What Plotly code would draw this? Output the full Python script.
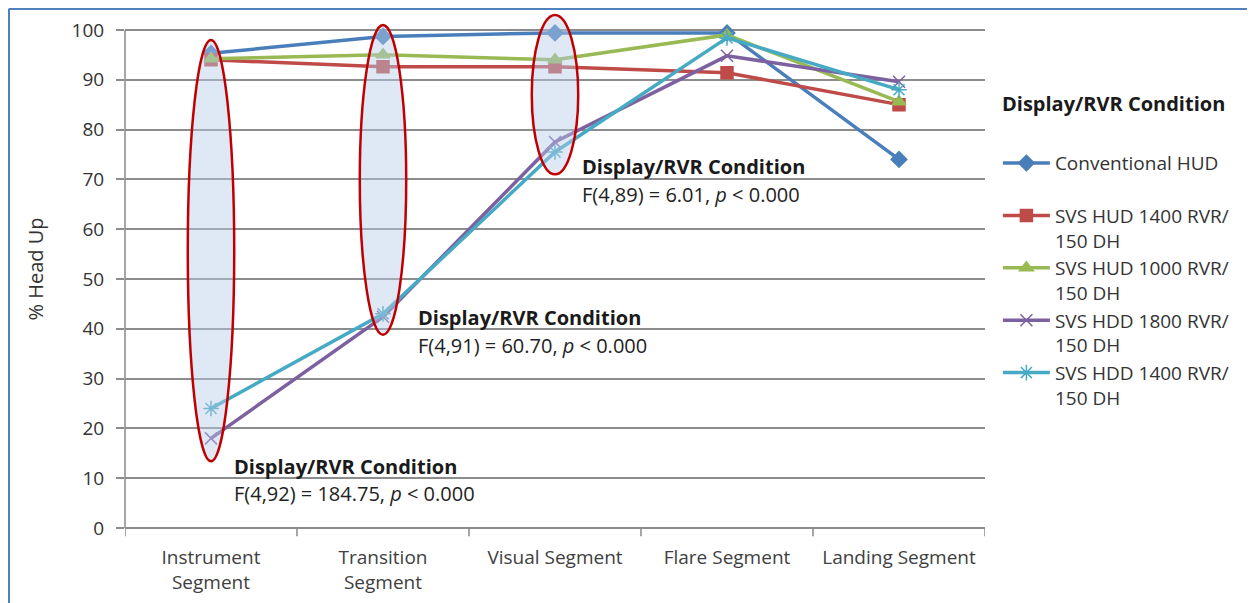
import plotly.graph_objects as go

categories = ["Instrument<br>Segment", "Transition<br>Segment", "Visual Segment", "Flare Segment", "Landing Segment"]
series_names = ["Conventional HUD<br> ", "SVS HUD 1400 RVR/<br>150 DH", "SVS HUD 1000 RVR/<br>150 DH",
                "SVS HDD 1800 RVR/<br>150 DH", "SVS HDD 1400 RVR/<br>150 DH"]
legend_title = "Display/RVR Condition"
conv_hud = [95.3, 98.7, 99.4, 99.4, 74.0]
svs_hud_1400 = [94.0, 92.6, 92.6, 91.4, 85.0]
svs_hud_1000 = [94.2, 95.0, 94.0, 99.0, 85.6]
svs_hdd_1800 = [18.0, 42.4, 77.5, 94.8, 89.6]
svs_hdd_1400 = [24.0, 43.0, 75.5, 98.4, 88.0]
series_values = [conv_hud, svs_hud_1400, svs_hud_1000, svs_hdd_1800, svs_hdd_1400]
colors = ["#4A7EBB", "#BE4B48", "#98B954", "#7D60A0", "#46AAC5"]
symbols = ["diamond", "square", "triangle-up", "x-thin-open", "asterisk-open"]
msizes = [12, 12, 12, 12, 13]

ellipse_cats = [0, 1, 2]
ellipse_top = [98.0, 101.0, 103.0]
ellipse_bot = [13.4, 38.8, 71.0]
stat_texts = ["F(4,92) = 184.75, <i>p</i> < 0.000", "F(4,91) = 60.70, <i>p</i> < 0.000",
              "F(4,89) = 6.01, <i>p</i> < 0.000"]
stat_x = [0.12, 1.19, 2.145]
stat_y_title = [12.4, 42.2, 72.5]
stat_y_text = [7.0, 36.7, 66.9]

FONT = "'Open Sans', sans-serif"
fig = go.Figure()

x_idx = list(range(len(categories)))
for i, (name, vals, c, s, ms) in enumerate(zip(series_names, series_values, colors, symbols, msizes)):
    fig.add_trace(go.Scatter(
        x=x_idx, y=vals, mode="lines+markers", name=name, legendgroup=f"g{i}",
        line=dict(color=c, width=3.5),
        marker=dict(symbol=s, size=ms, color=c, line=dict(color=c, width=1.5)),
        cliponaxis=False,
    ))

for xc, top, bot in zip(ellipse_cats, ellipse_top, ellipse_bot):
    fig.add_shape(type="circle", xref="x", yref="y", x0=xc - 0.135, x1=xc + 0.135,
                  y0=bot, y1=top, line=dict(color="#C00000", width=2.5),
                  fillcolor="rgba(185,205,232,0.45)", layer="above")

for x, yt, y2, txt in zip(stat_x, stat_y_title, stat_y_text, stat_texts):
    fig.add_annotation(x=x, y=yt, xref="x", yref="y", text="<b>Display/RVR Condition</b>",
                       showarrow=False, xanchor="left", yanchor="middle",
                       font=dict(family=FONT, size=20, color="#1a1a1a"))
    fig.add_annotation(x=x, y=y2, xref="x", yref="y", text=txt,
                       showarrow=False, xanchor="left", yanchor="middle",
                       font=dict(family=FONT, size=20, color="#222"))

# legend title
fig.add_annotation(x=(992 - 117) / 860, y=(520 - 96) / 518, xref="paper", yref="paper",
                   text=f"<b>{legend_title}</b>", showarrow=False, xanchor="left", yanchor="middle",
                   font=dict(family=FONT, size=20, color="#1a1a1a"))

# y axis line from 0 to 100
fig.add_shape(type="line", xref="paper", yref="y", x0=0, x1=0, y0=0, y1=100,
              line=dict(color="#888", width=1.5), layer="below")

# outer border (left and top edges only)
bx = (0.8 - 117) / 860
by = (520 - 0.8) / 518
fig.add_shape(type="line", xref="paper", yref="paper", x0=bx, x1=bx, y0=-0.2, y1=by,
              line=dict(color="#4F81BD", width=2.5))
fig.add_shape(type="line", xref="paper", yref="paper", x0=bx, x1=1.4, y0=by, y1=by,
              line=dict(color="#4F81BD", width=2.5))

fig.update_layout(
    width=1247, height=595,
    margin=dict(l=117, r=270, t=2, b=75),
    paper_bgcolor="white", plot_bgcolor="white",
    font=dict(family=FONT, size=19, color="#333"),
    showlegend=True,
    legend=dict(
        x=1.015, y=0.741, xanchor="left", yanchor="top", valign="top",
        font=dict(family=FONT, size=19, color="#333"),
        tracegroupgap=0, itemwidth=47,
    ),
    xaxis=dict(
        tickmode="array", tickvals=x_idx, ticktext=categories,
        range=[-0.5, 4.5], showgrid=False, zeroline=False, automargin=False,
        showline=False, ticks="", ticklabelstandoff=16,
        tickfont=dict(family=FONT, size=19, color="#404040"),
    ),
    yaxis=dict(
        range=[0, 104], tickmode="array", tickvals=list(range(0, 101, 10)),
        showgrid=True, gridcolor="#8c8c8c", gridwidth=1.5, automargin=False,
        zeroline=True, zerolinecolor="#8c8c8c", zerolinewidth=1.5,
        showline=False, ticks="outside", ticklen=8, tickcolor="#8c8c8c", tickwidth=1.5,
        ticklabelstandoff=8,
        tickfont=dict(family=FONT, size=19, color="#333"),
        title=dict(text="% Head Up", font=dict(family=FONT, size=20, color="#333"), standoff=22),
    ),
)

# category boundary tick marks on x axis
for b in [-0.5, 0.5, 1.5, 2.5, 3.5, 4.5]:
    fig.add_shape(type="line", xref="x", yref="paper", x0=b, x1=b, y0=0, y1=-0.016,
                  line=dict(color="#888", width=1.5))

fig.write_html("out.html")
